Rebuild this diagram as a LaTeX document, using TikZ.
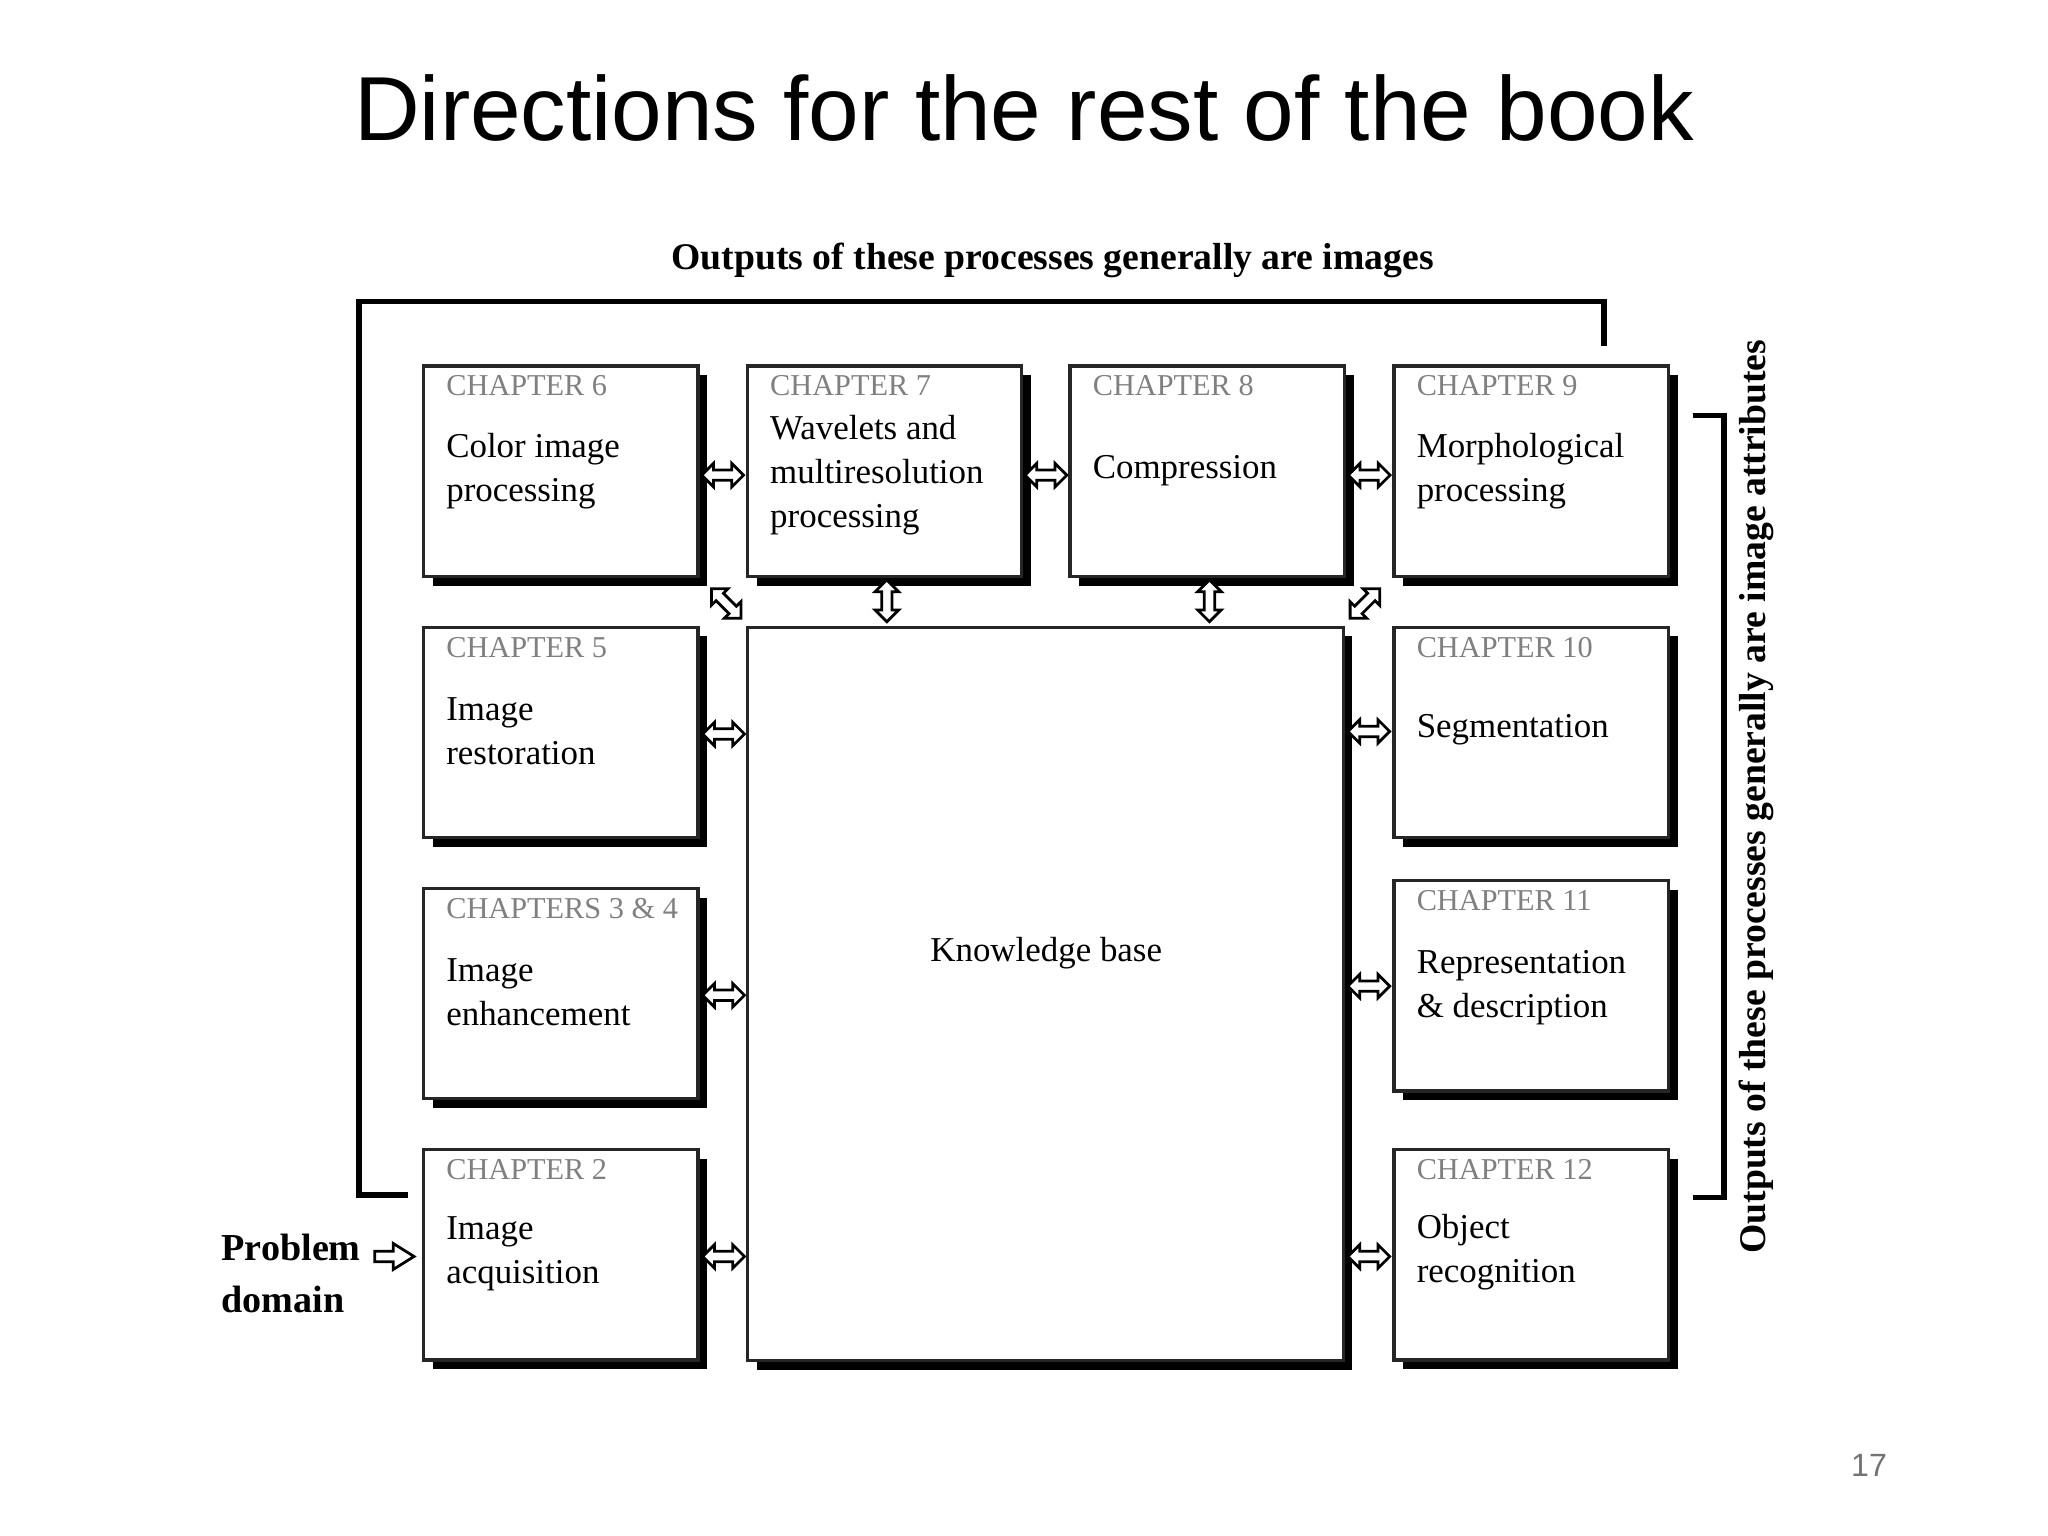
\documentclass[tikz,border=0pt]{standalone}
\usepackage{fontspec}
\setmainfont{Liberation Serif}
\newfontfamily\titlefont{Liberation Sans}
\usetikzlibrary{calc}
\tikzset{
  chbox/.style={draw=black!85,line width=0.7pt,fill=white,minimum width=2.1cm,minimum height=1.61cm,inner sep=0,
    preaction={fill=black,transform canvas={shift={(0.07cm,-0.07cm)}}}},
  hdr/.style={anchor=north west,inner sep=0,text=black!50,font=\fontsize{6.6}{8}\selectfont},
  body/.style={anchor=west,inner sep=0,align=left,font=\fontsize{7.6}{9.6}\selectfont},
  arr/.style={draw=black,line width=0.6pt,fill=white},
  line/.style={draw=black,line width=1.2pt}
}
\newcommand\darrow[2]{\draw[arr,shift={(#1)},rotate=#2] (-16,0)--(-7,-9)--(-7,-4)--(7,-4)--(7,-9)--(16,0)--(7,9)--(7,4)--(-7,4)--(-7,9)--cycle;}
\begin{document}
\begin{tikzpicture}[x=0.01cm,y=-0.01cm]
\useasboundingbox (0,0) rectangle (1568,1176);
\node[font=\titlefont\fontsize{19.8}{22}\selectfont] (title) at (784,83) {Directions for the rest of the book};
\node[font=\bfseries\fontsize{8.2}{10}\selectfont] (toplab) at (806,199) {Outputs of these processes generally are images};
% boxes
\newcommand\chb[6]{\node[chbox,anchor=north west] (#1) at (#2,#3) {};
  \node[hdr] at ($(#1.north west)+(18,8)$) {#4};
  \node[body] at ($(#1.north west)+(18,#6)$) {#5};}
\chb{c6}{323}{279}{CHAPTER 6}{Color image\\processing}{82}
\chb{c7}{571}{279}{CHAPTER 7}{Wavelets and\\multiresolution\\processing}{85}
\chb{c8}{818}{279}{CHAPTER 8}{Compression}{81}
\chb{c9}{1066}{279}{CHAPTER 9}{Morphological\\processing}{82}
\chb{c5}{323}{479}{CHAPTER 5}{Image\\restoration}{81}
\chb{c10}{1066}{479}{CHAPTER 10}{Segmentation}{80}
\chb{c34}{323}{679}{CHAPTERS 3 \& 4}{Image\\enhancement}{81}
\chb{c11}{1066}{673}{CHAPTER 11}{Representation\\\& description}{83}
\chb{c2}{323}{879}{CHAPTER 2}{Image\\acquisition}{81}
\chb{c12}{1066}{879}{CHAPTER 12}{Object\\recognition}{80}
\node[chbox,anchor=north west,minimum width=4.56cm,minimum height=5.61cm] (kb) at (571,479) {};
\node[font=\fontsize{7.6}{9}\selectfont] (kbt) at (801,730) {Knowledge base};
% arrows
\darrow{$(c6.east)!0.5!(c7.west)+(0,3)$}{0}
\darrow{$(c7.east)!0.5!(c8.west)+(0,3)$}{0}
\darrow{$(c8.east)!0.5!(c9.west)+(0,3)$}{0}
\darrow{554,562}{0}
\darrow{554,762}{0}
\darrow{554,962}{0}
\darrow{1048,560}{0}
\darrow{1048,755}{0}
\darrow{1048,962}{0}
\darrow{679,460}{90}
\darrow{926,460}{90}
\darrow{556,462}{-45}
\darrow{1045,462}{45}
% lines
\draw[line] (312,915) -- (275,915) -- (275,231) -- (1228,231) -- (1228,265);
\draw[line] (1296,318) -- (1320,318) -- (1320,917) -- (1296,917);
\node[rotate=90,font=\bfseries\fontsize{8.2}{10}\selectfont] (rlab) at (1345,610) {Outputs of these processes generally are image attributes};
\node[anchor=west,align=left,inner sep=0,font=\bfseries\fontsize{8.3}{11.5}\selectfont] (pd) at (169,975) {Problem\\domain};
\draw[arr,shift={(287,962)}] (0,-4)--(14,-4)--(14,-10)--(30,0)--(14,10)--(14,4)--(0,4)--cycle;
\node[text=black!55,font=\titlefont\fontsize{7}{8}\selectfont] (pg) at (1431,1122) {17};
\end{tikzpicture}
\end{document}
